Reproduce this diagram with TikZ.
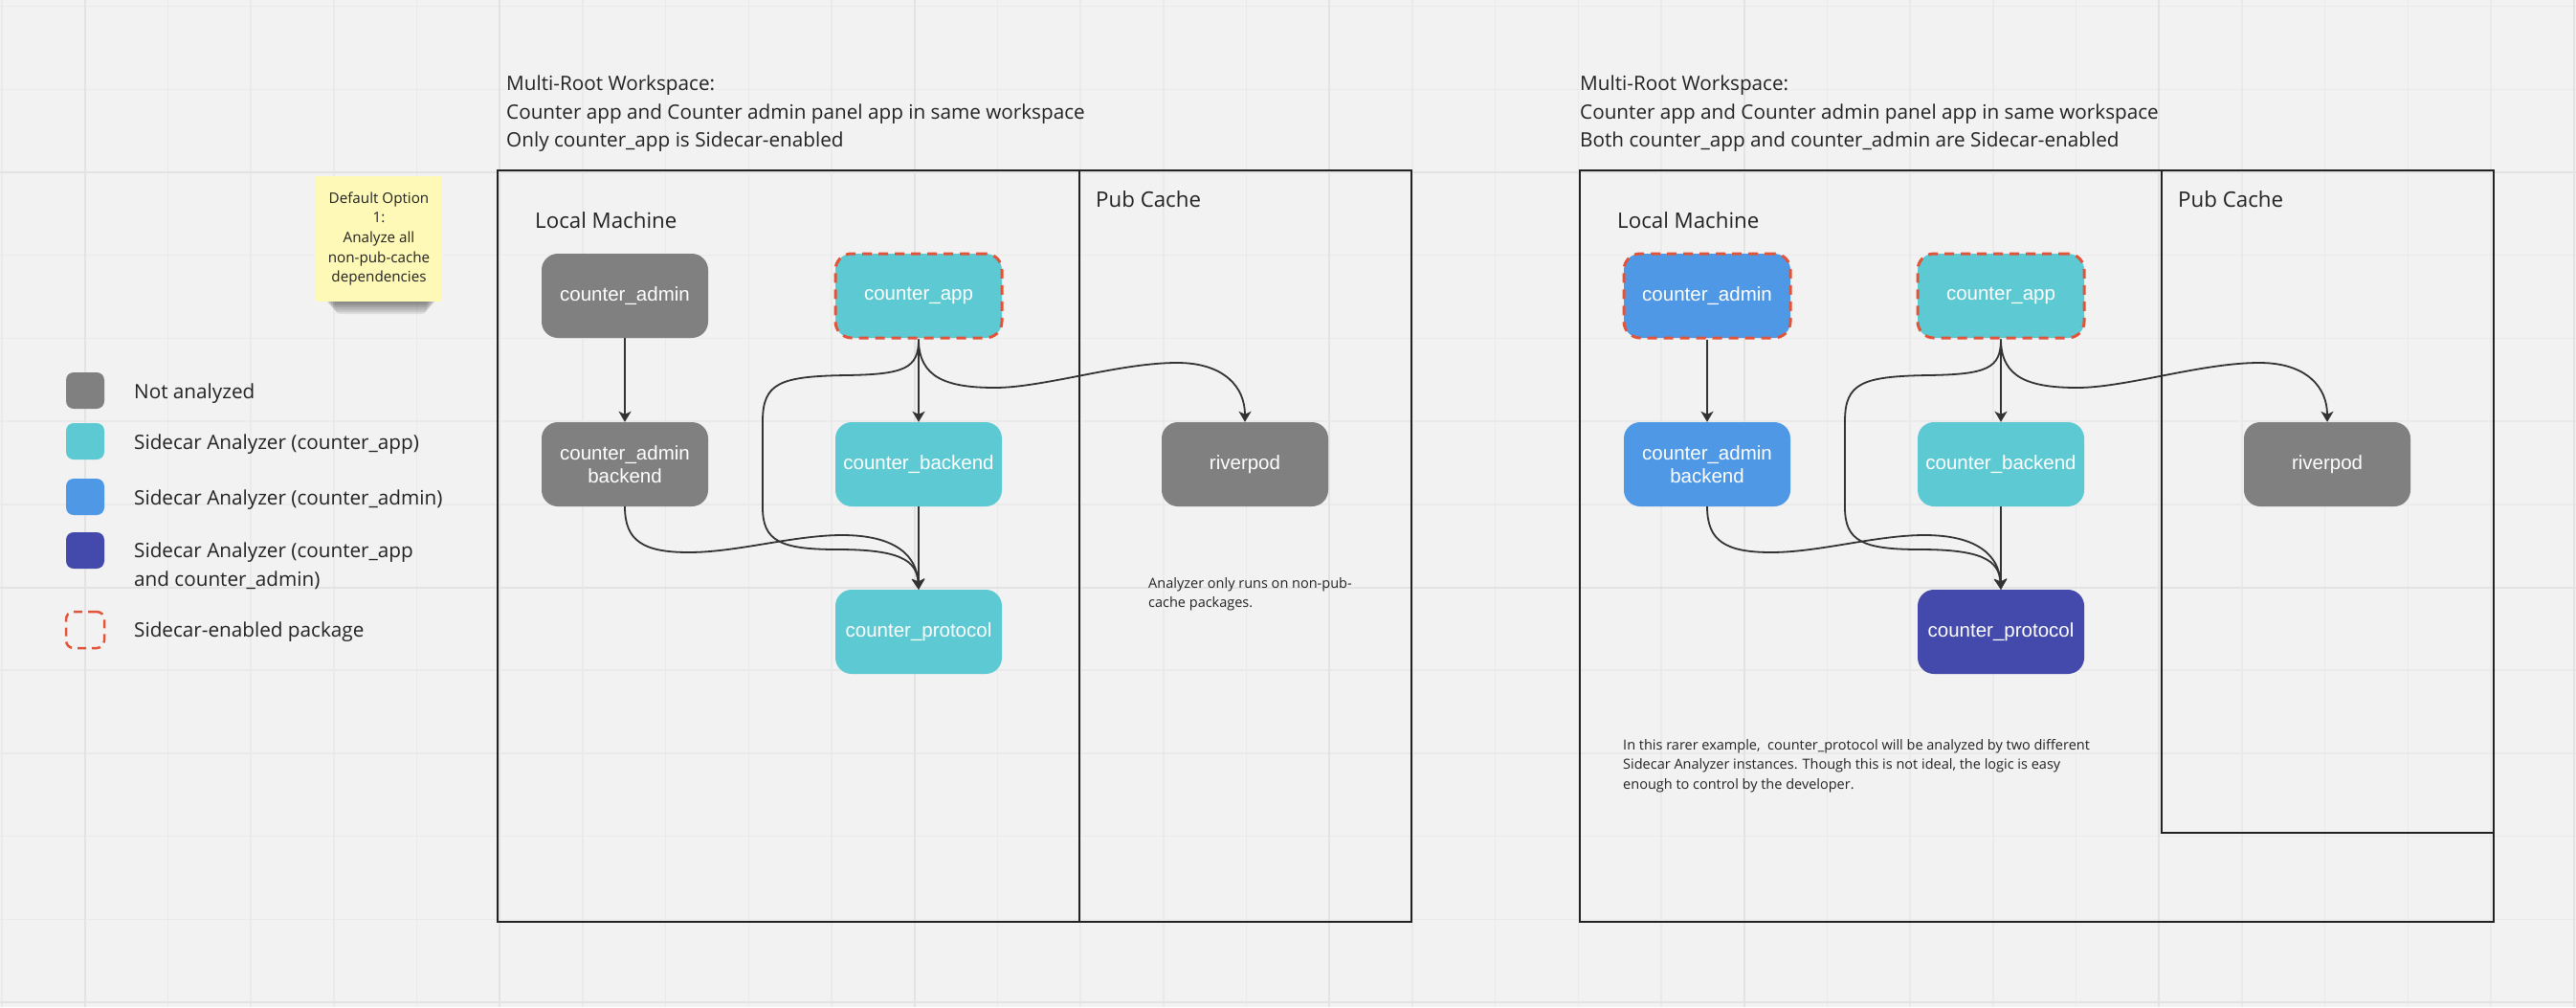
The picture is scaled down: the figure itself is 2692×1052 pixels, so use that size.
\documentclass[tikz,border=0pt]{standalone}
\usepackage{fontspec}
\setmainfont{Open Sans}
\newfontfamily\arialfont{Liberation Sans}
\usetikzlibrary{arrows.meta}

\definecolor{canvas}{HTML}{F2F2F2}
\definecolor{gridminor}{HTML}{EAEAEA}
\definecolor{gridmajor}{HTML}{E3E3E3}
\definecolor{pkggrey}{HTML}{808080}
\definecolor{pkgteal}{HTML}{5DCAD3}
\definecolor{pkgblue}{HTML}{4F98E6}
\definecolor{pkgindigo}{HTML}{434AAC}
\definecolor{sidecarred}{HTML}{E0553A}
\definecolor{linkgrey}{HTML}{333333}
\definecolor{inkgrey}{HTML}{222222}
\definecolor{sticky}{HTML}{FEF9B6}

\tikzset{
  pkg/.style={rectangle, rounded corners=17pt, minimum width=174pt, minimum height=88pt,
    inner sep=0pt, text=white, align=center, font=\arialfont\fontsize{20.5}{23.5}\selectfont},
  notrun/.style={pkg, fill=pkggrey},
  appsc/.style={pkg, fill=pkgteal},
  adminsc/.style={pkg, fill=pkgblue},
  bothsc/.style={pkg, fill=pkgindigo},
  sidecar/.style={draw=sidecarred, line width=3pt, dash pattern=on 10pt off 7pt},
  swatch/.style={rectangle, rounded corners=8pt, minimum width=40pt, minimum height=38pt, inner sep=0pt},
  dep/.style={draw=linkgrey, line width=1.8pt, -{Stealth[length=11pt, width=13pt, inset=3pt]}},
  frame/.style={draw=inkgrey, line width=2pt},
  txt/.style={anchor=base west, inner sep=0pt, text=inkgrey, font=\fontsize{20.7}{29.5}\selectfont},
  heading/.style={txt, font=\fontsize{22.3}{26}\selectfont},
  remark/.style={txt, font=\fontsize{14.5}{20.5}\selectfont},
}

\begin{document}
\begin{tikzpicture}[x=1pt, y=-1pt]
  \useasboundingbox (0, 0) rectangle (2692, 1052);
  \fill[canvas] (0, 0) rectangle (2692, 1052);

  % board grid
  \foreach \i in {0,...,31}
    \draw[gridminor, line width=1.5pt] ({2+86.7*\i}, 0) -- ++(0, 1052);
  \foreach \j in {0,...,12}
    \draw[gridminor, line width=1.5pt] (0, {6.6+86.7*\j}) -- ++(2692, 0);
  \foreach \i in {0,...,6}
    \draw[gridmajor, line width=2pt] ({88.7+433.5*\i}, 0) -- ++(0, 1052);
  \foreach \j in {0,...,2}
    \draw[gridmajor, line width=2pt] (0, {180+433.5*\j}) -- ++(2692, 0);

  % sticky note
  \foreach \s in {1,...,7}
    \fill[black, opacity=0.09, rounded corners=5pt] (336+2*\s, 306) rectangle (460-2*\s, {312+2.3*\s});
  \node[fill=sticky, minimum width=132pt, minimum height=131pt, inner sep=0pt, align=center,
    text=inkgrey, font=\fontsize{15.2}{20.7}\selectfont] (note) at (396, 249.5){Default Option\\1:\\Analyze all\\non-pub-cache\\dependencies};

  % legend
  \node[swatch, fill=pkggrey] (key1) at (89, 408){};
  \node[swatch, fill=pkgteal] (key2) at (89, 461){};
  \node[swatch, fill=pkgblue] (key3) at (89, 519){};
  \node[swatch, fill=pkgindigo] (key4) at (89, 575){};
  \node[swatch, draw=sidecarred, line width=2.5pt, dash pattern=on 9pt off 6pt] (key5) at (89, 658){};
  \node[txt] (keytext1) at (140, 416){Not analyzed};
  \node[txt] (keytext2) at (140, 469){Sidecar Analyzer (counter\_app)};
  \node[txt] (keytext3) at (140, 527){Sidecar Analyzer (counter\_admin)};
  \node[txt] (keytext4) at (140, 582){Sidecar Analyzer (counter\_app};
  \node[txt] (keytext4b) at (140, 612){and counter\_admin)};
  \node[txt] (keytext5) at (140, 665){Sidecar-enabled package};

  % only counter_app is sidecar-enabled
  \begin{scope}
    \draw[frame] (520, 178) rectangle (1475, 963);
    \draw[frame] (1128, 178) -- (1128, 963);
    \node[txt] (title1a) at (529, 94.5){Multi-Root Workspace:};
    \node[txt] (title1b) at (529, 124){Counter app and Counter admin panel app in same workspace};
    \node[txt] (title1c) at (529, 153.5){Only counter\_app is Sidecar-enabled};
    \node[heading] (local1) at (559, 238){Local Machine};
    \node[heading] (cache1) at (1145, 216){Pub Cache};

    \node[notrun] (admin1) at (653, 309){counter\_admin};
    \node[appsc, sidecar] (app1) at (960, 309){counter\_app};
    \node[notrun] (adminback1) at (653, 485){counter\_admin\\backend};
    \node[appsc] (back1) at (960, 485){counter\_backend};
    \node[notrun] (river1) at (1301, 485){riverpod};
    \node[appsc] (proto1) at (960, 660){counter\_protocol};

    \node[remark] (remark1a) at (1200, 614){Analyzer only runs on non-pub-};
    \node[remark] (remark1b) at (1200, 634.5){cache packages.};

    \draw[dep] (admin1) -- (adminback1);
    \draw[dep] (app1) -- (back1);
    \draw[dep] (back1) -- (proto1);
    \draw[dep] (app1.south) .. controls (960, 395) and (990, 405) .. (1040, 405)
      .. controls (1090, 405) and (1170, 379) .. (1230, 379)
      .. controls (1280, 379) and (1301, 405) .. (river1.north);
    \draw[dep] (app1.south) .. controls (960, 385) and (945, 391) .. (885, 392)
      .. controls (815, 393) and (797, 400) .. (797, 440) -- (797, 530)
      .. controls (797, 565) and (815, 574) .. (875, 574)
      .. controls (940, 574) and (958, 585) .. (proto1.north);
    \draw[dep] (adminback1.south) .. controls (653, 565) and (672, 577) .. (720, 577)
      .. controls (770, 577) and (830, 559) .. (880, 559)
      .. controls (935, 559) and (958, 580) .. (proto1.north);
  \end{scope}

  % both apps are sidecar-enabled
  \begin{scope}[xshift=1131pt]
    \draw[frame] (520, 178) rectangle (1475, 963);
    \draw[frame] (1128, 178) rectangle (1475, 870);
    \node[txt] (title2a) at (520, 94.5){Multi-Root Workspace:};
    \node[txt] (title2b) at (520, 124){Counter app and Counter admin panel app in same workspace};
    \node[txt] (title2c) at (520, 153.5){Both counter\_app and counter\_admin are Sidecar-enabled};
    \node[heading] (local2) at (559, 238){Local Machine};
    \node[heading] (cache2) at (1145, 216){Pub Cache};

    \node[adminsc, sidecar] (admin2) at (653, 309){counter\_admin};
    \node[appsc, sidecar] (app2) at (960, 309){counter\_app};
    \node[adminsc] (adminback2) at (653, 485){counter\_admin\\backend};
    \node[appsc] (back2) at (960, 485){counter\_backend};
    \node[notrun] (river2) at (1301, 485){riverpod};
    \node[bothsc] (proto2) at (960, 660){counter\_protocol};

    \node[remark] (remark2a) at (565, 783){In this rarer example,\ \ counter\_protocol will be analyzed by two different};
    \node[remark] (remark2b) at (565, 803.5){Sidecar Analyzer instances. Though this is not ideal, the logic is easy};
    \node[remark] (remark2c) at (565, 824){enough to control by the developer.};

    \draw[dep] (admin2) -- (adminback2);
    \draw[dep] (app2) -- (back2);
    \draw[dep] (back2) -- (proto2);
    \draw[dep] (app2.south) .. controls (960, 395) and (990, 405) .. (1040, 405)
      .. controls (1090, 405) and (1170, 379) .. (1230, 379)
      .. controls (1280, 379) and (1301, 405) .. (river2.north);
    \draw[dep] (app2.south) .. controls (960, 385) and (945, 391) .. (885, 392)
      .. controls (815, 393) and (797, 400) .. (797, 440) -- (797, 530)
      .. controls (797, 565) and (815, 574) .. (875, 574)
      .. controls (940, 574) and (958, 585) .. (proto2.north);
    \draw[dep] (adminback2.south) .. controls (653, 565) and (672, 577) .. (720, 577)
      .. controls (770, 577) and (830, 559) .. (880, 559)
      .. controls (935, 559) and (958, 580) .. (proto2.north);
  \end{scope}
\end{tikzpicture}
\end{document}
